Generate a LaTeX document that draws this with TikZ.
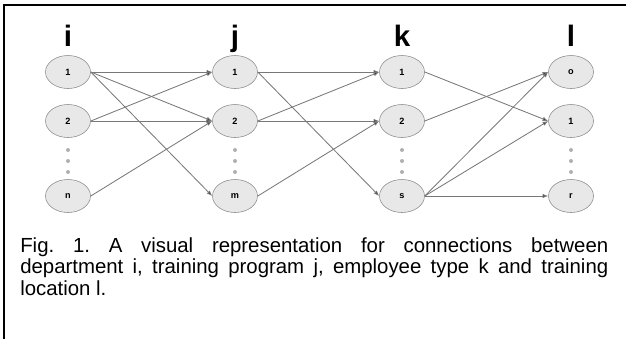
\documentclass[tikz,border=0pt]{standalone}
\usepackage{fontspec}
\setmainfont{Liberation Sans}
\setsansfont{Liberation Sans}
\usetikzlibrary{positioning, arrows.meta, shapes.geometric}
\definecolor{nodefill}{RGB}{232,232,232}
\definecolor{nodeborder}{RGB}{140,140,140}
\definecolor{linegray}{RGB}{120,120,120}
\definecolor{tipgray}{RGB}{40,40,40}
\tikzset{
    setnode/.style={
        ellipse,
        draw=nodeborder,
        fill=nodefill,
        thin,
        minimum width=1.125cm,
        minimum height=0.825cm,
        inner sep=0pt,
        font=\fontsize{6.5}{7}\selectfont\bfseries
    },
    setlabel/.style={font=\fontsize{21}{24}\selectfont\bfseries, anchor=base, inner sep=0pt},
    vdot/.style={circle, fill=nodeborder!70, inner sep=0pt, minimum size=0.1cm},
    conn/.style={-{Latex[length=1.4mm, width=1.1mm, fill=tipgray]}, draw=linegray, line width=0.6pt}
}

\begin{document}
\begin{tikzpicture}

    \useasboundingbox (0, 0) rectangle (15.65, -8.475);

    % Marco (solo arriba e izquierda)
    \draw[line width=1.5pt] (0.1, -8.475) |- (15.65, -0.125);

    % 1. Etiquetas de conjuntos
    \node[setlabel] (lbl_i) at (1.7, -1.15) {i};
    \node[setlabel] (lbl_j) at (5.875, -1.15) {j};
    \node[setlabel] (lbl_k) at (10.05, -1.15) {k};
    \node[setlabel] (lbl_l) at (14.275, -1.15) {l};

    % 2. Departamentos i
    \node[setnode] (i1) at (1.7, -1.8) {1};
    \node[setnode] (i2) at (1.7, -3.025) {2};
    \node[setnode] (in) at (1.7, -4.9) {n};

    % 3. Programas j
    \node[setnode] (j1) at (5.875, -1.8) {1};
    \node[setnode] (j2) at (5.875, -3.025) {2};
    \node[setnode] (jm) at (5.875, -4.9) {m};

    % 4. Tipos de empleado k
    \node[setnode] (k1) at (10.05, -1.8) {1};
    \node[setnode] (k2) at (10.05, -3.025) {2};
    \node[setnode] (ks) at (10.05, -4.9) {s};

    % 5. Ubicaciones l
    \node[setnode] (l0) at (14.275, -1.8) {o};
    \node[setnode] (l1) at (14.275, -3.025) {1};
    \node[setnode] (lr) at (14.275, -4.9) {r};

    % Puntos suspensivos
    \node[vdot] (dot_i1) at (1.7, -3.75) {};
    \node[vdot] (dot_i2) at (1.7, -4.025) {};
    \node[vdot] (dot_i3) at (1.7, -4.3) {};
    \node[vdot] (dot_j1) at (5.875, -3.75) {};
    \node[vdot] (dot_j2) at (5.875, -4.025) {};
    \node[vdot] (dot_j3) at (5.875, -4.3) {};
    \node[vdot] (dot_k1) at (10.05, -3.75) {};
    \node[vdot] (dot_k2) at (10.05, -4.025) {};
    \node[vdot] (dot_k3) at (10.05, -4.3) {};
    \node[vdot] (dot_l1) at (14.275, -3.75) {};
    \node[vdot] (dot_l2) at (14.275, -4.025) {};
    \node[vdot] (dot_l3) at (14.275, -4.3) {};

    % ==========================================
    % Conexiones
    % ==========================================

    % i -> j
    \draw[conn] (i1.east) -- (j1.west);
    \draw[conn] (i1.east) -- (j2.west);
    \draw[conn] (i1.east) -- (jm.west);
    \draw[conn] (i2.east) -- (j1.west);
    \draw[conn] (i2.east) -- (j2.west);
    \draw[conn] (in.east) -- (j2.west);

    % j -> k
    \draw[conn] (j1.east) -- (k1.west);
    \draw[conn] (j1.east) -- (ks.west);
    \draw[conn] (j2.east) -- (k1.west);
    \draw[conn] (j2.east) -- (k2.west);
    \draw[conn] (jm.east) -- (k2.west);

    % k -> l
    \draw[conn] (k1.east) -- (l1.west);
    \draw[conn] (k2.east) -- (l0.west);
    \draw[conn] (ks.east) -- (l0.west);
    \draw[conn] (ks.east) -- (l1.west);
    \draw[conn] (ks.east) -- (lr.west);

    % Pie de figura
    \node[anchor=base west, inner sep=0pt, text width=14.7cm, align=justify,
          font=\fontsize{14.5}{15.6}\selectfont\frenchspacing] (caption) at (0.5, -6.3)
        {Fig. 1. A visual representation for connections between\linebreak
         department i, training program j, employee type k and training\linebreak
         location l.};

\end{tikzpicture}
\end{document}
